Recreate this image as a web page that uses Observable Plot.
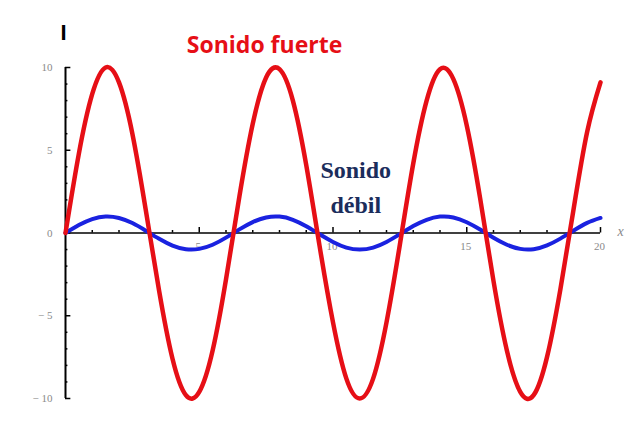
<!DOCTYPE html>
<html>
<head>
<meta charset="utf-8">
<script src="https://cdn.jsdelivr.net/npm/d3@7"></script>
<script src="https://cdn.jsdelivr.net/npm/@observablehq/plot@0.6"></script>
<style>
  html, body { margin: 0; padding: 0; background: #fff; }
  #chart { width: 640px; height: 429px; }
</style>
</head>
<body>
<div id="chart"></div>
<script>
// Sample positions along x and values
const xs = [0,0.5,1,1.5,2,2.5,3,3.5,4,4.5,5,5.5,6,6.5,7,7.5,8,8.5,9,9.5,10,10.5,11,11.5,12,12.5,13,13.5,14,14.5,15,15.5,16,16.5,17,17.5,18,18.5,19,19.5,20];
const loud = [0,4.8,8.4,10.0,9.1,6.0,1.4,-3.5,-7.6,-9.8,-9.6,-7.1,-2.8,2.2,6.6,9.4,9.9,8.0,4.1,-0.8,-5.4,-8.8,-10.0,-8.8,-5.4,-0.7,4.2,8.0,9.9,9.3,6.5,2.1,-2.9,-7.1,-9.6,-9.8,-7.5,-3.4,1.5,6.1,9.1];
const soft = [0,0.48,0.84,1.0,0.91,0.6,0.14,-0.35,-0.76,-0.98,-0.96,-0.71,-0.28,0.22,0.66,0.94,0.99,0.8,0.41,-0.08,-0.54,-0.88,-1.0,-0.88,-0.54,-0.07,0.42,0.8,0.99,0.94,0.65,0.21,-0.29,-0.71,-0.96,-0.98,-0.75,-0.34,0.15,0.61,0.91];

const yMajor = [-10,-5,0,5,10];
const yMajorLabels = ["\u2212 10","\u2212 5","0","5","10"];
const yMinor = [-9,-8,-7,-6,-4,-3,-2,-1,1,2,3,4,6,7,8,9];
const xMajor = [5,10,15,20];
const xMajorLabels = ["5","10","15","20"];
const xMinor = [1,2,3,4,6,7,8,9,11,12,13,14,16,17,18,19];

const loudData = xs.map((x,i) => ({x, y: loud[i]}));
const softData = xs.map((x,i) => ({x, y: soft[i]}));

const RED = "#e60f16";
const BLUE = "#1a22e0";
const NAVY = "#1b2d5c";
const GRAY = "#8a8a8a";

const chart = Plot.plot({
  width: 640,
  height: 429,
  marginLeft: 65,
  marginRight: 40,
  marginTop: 67,
  marginBottom: 31,
  x: {domain: [0, 20], axis: null},
  y: {domain: [-10, 10], axis: null},
  style: {background: "#fff", overflow: "visible"},
  marks: [
    // axes lines
    Plot.ruleX([0], {y1: -10, y2: 10, stroke: "#000", strokeWidth: 2}),
    Plot.ruleY([0], {x1: 0, x2: 20, stroke: "#000", strokeWidth: 1.6}),
    // y ticks (inward)
    Plot.ruleY(yMajor, {x1: 0, x2: 0.2, stroke: "#000", strokeWidth: 1.5}),
    Plot.ruleY(yMinor, {x1: 0, x2: 0.09, stroke: "#000", strokeWidth: 1.5}),
    // x ticks (inward, upward)
    Plot.ruleX(xMajor, {y1: 0, y2: 0.33, stroke: "#000", strokeWidth: 1.5}),
    Plot.ruleX(xMinor, {y1: 0, y2: 0.15, stroke: "#000", strokeWidth: 1.5}),
    // tick labels
    Plot.text(yMajor, {x: 0, y: d => d, text: (d, i) => yMajorLabels[i], dx: -13, textAnchor: "end",
      fill: GRAY, fontFamily: "Liberation Serif", fontSize: 11}),
    Plot.text(xMajor, {x: d => d, y: 0, text: (d, i) => xMajorLabels[i], dy: 13, dx: -1,
      fill: GRAY, fontFamily: "Liberation Serif", fontSize: 11}),
    Plot.text(["x"], {x: 20, y: 0, dx: 20, dy: -1, fill: GRAY, fontFamily: "Liberation Serif",
      fontStyle: "italic", fontSize: 14}),
    // curves
    Plot.line(softData, {x: "x", y: "y", stroke: BLUE, strokeWidth: 4, curve: "natural"}),
    Plot.line(loudData, {x: "x", y: "y", stroke: RED, strokeWidth: 4.5, curve: "natural"}),
    // annotations
    Plot.text(["I"], {x: 0, y: 10, dx: -2, dy: -35, fill: "#000", fontFamily: "Liberation Sans",
      fontWeight: "bold", fontSize: 22}),
    Plot.text(["Sonido fuerte"], {x: 7.44, y: 10, dy: -22, fill: RED, fontFamily: "Open Sans",
      fontWeight: "bold", fontSize: 23}),
    Plot.text(["Sonido"], {x: 10.85, y: 10, dy: 103, fill: NAVY, fontFamily: "Liberation Serif",
      fontWeight: "bold", fontSize: 24}),
    Plot.text(["débil"], {x: 10.85, y: 10, dy: 138, fill: NAVY, fontFamily: "Liberation Serif",
      fontWeight: "bold", fontSize: 24})
  ]
});
document.getElementById("chart").appendChild(chart);
</script>
</body>
</html>
